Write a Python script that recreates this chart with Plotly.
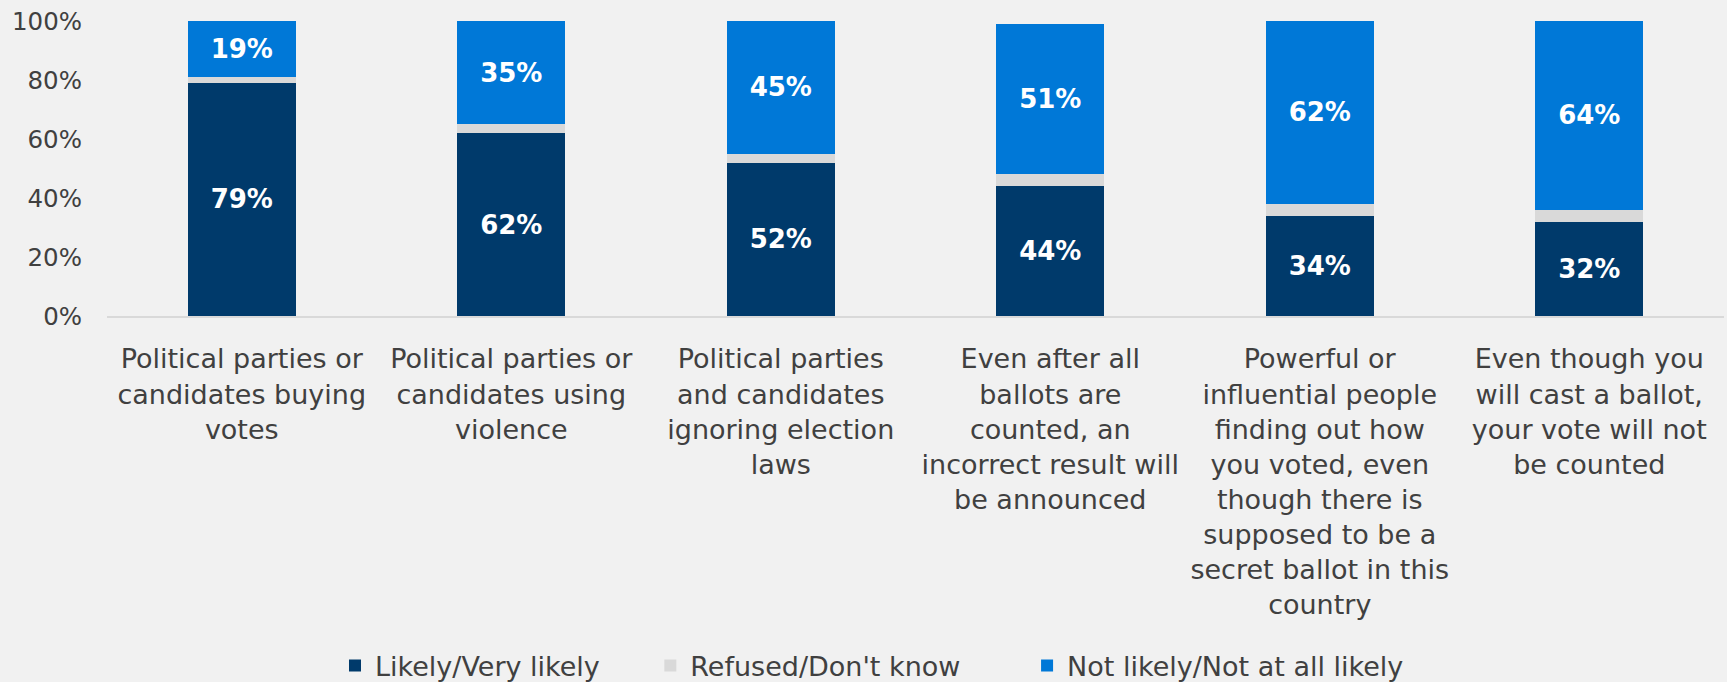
import plotly.graph_objects as go

categories = [
    "Political parties or<br>candidates buying<br>votes",
    "Political parties or<br>candidates using<br>violence",
    "Political parties<br>and candidates<br>ignoring election<br>laws",
    "Even after all<br>ballots are<br>counted, an<br>incorrect result will<br>be announced",
    "Powerful or<br>influential people<br>finding out how<br>you voted, even<br>though there is<br>supposed to be a<br>secret ballot in this<br>country",
    "Even though you<br>will cast a ballot,<br>your vote will not<br>be counted",
]
likely = [79, 62, 52, 44, 34, 32]
refused = [2, 3, 3, 4, 4, 4]
not_likely = [19, 35, 45, 51, 62, 64]
y_ticks = [0, 20, 40, 60, 80, 100]
y_tick_labels = ["0%", "20%", "40%", "60%", "80%", "100%"]

FONT = "DejaVu Sans"
TEXT_GREY = "#404040"
BG = "#f1f1f1"
label_font = dict(family=FONT, size=26, color="white", weight="bold")

fig = go.Figure()
fig.add_trace(go.Bar(
    x=categories, y=likely, name="Likely/Very likely", legend="legend",
    marker=dict(color="#003a6b", line=dict(width=0)),
    text=[f"{v}%" for v in likely], texttemplate="%{text}",
    textposition="inside", insidetextanchor="middle",
    textangle=0, insidetextfont=label_font,
))
fig.add_trace(go.Bar(
    x=categories, y=refused, name="Refused/Don't know", legend="legend2",
    marker=dict(color="#d9d9d9", line=dict(width=0)),
    hoverinfo="skip",
))
fig.add_trace(go.Bar(
    x=categories, y=not_likely, name="Not likely/Not at all likely", legend="legend3",
    marker=dict(color="#0078d7", line=dict(width=0)),
    text=[f"{v}%" for v in not_likely], texttemplate="%{text}",
    textposition="inside", insidetextanchor="middle",
    textangle=0, insidetextfont=label_font,
))

# one legend per series so each entry sits at its own spot along the bottom
legend_common = dict(
    orientation="h", xanchor="left",
    yref="container", y=0.0235, yanchor="middle",
    font=dict(family=FONT, size=27, color=TEXT_GREY),
    bgcolor="rgba(0,0,0,0)", itemwidth=30,
)

fig.update_layout(
    width=1727, height=682,
    barmode="stack", bargap=0.6,
    paper_bgcolor=BG, plot_bgcolor=BG,
    margin=dict(l=107, r=3, t=21, b=366),
    font=dict(family=FONT, color=TEXT_GREY),
    showlegend=True,
    legend=dict(x=0.141, **legend_common),
    legend2=dict(x=0.336, **legend_common),
    legend3=dict(x=0.569, **legend_common),
)
fig.update_xaxes(
    showline=True, linecolor="#d9d9d9", linewidth=2,
    showgrid=False, ticks="", ticklabelstandoff=18,
    tickfont=dict(family=FONT, size=27, color=TEXT_GREY),
    tickangle=0,
)
fig.update_yaxes(
    range=[0, 100], tickvals=y_ticks, ticktext=y_tick_labels,
    showgrid=False, zeroline=False, showline=False,
    ticks="", ticklabelstandoff=24,
    tickfont=dict(family=FONT, size=24.5, color=TEXT_GREY),
)

fig.write_html("out.html")
